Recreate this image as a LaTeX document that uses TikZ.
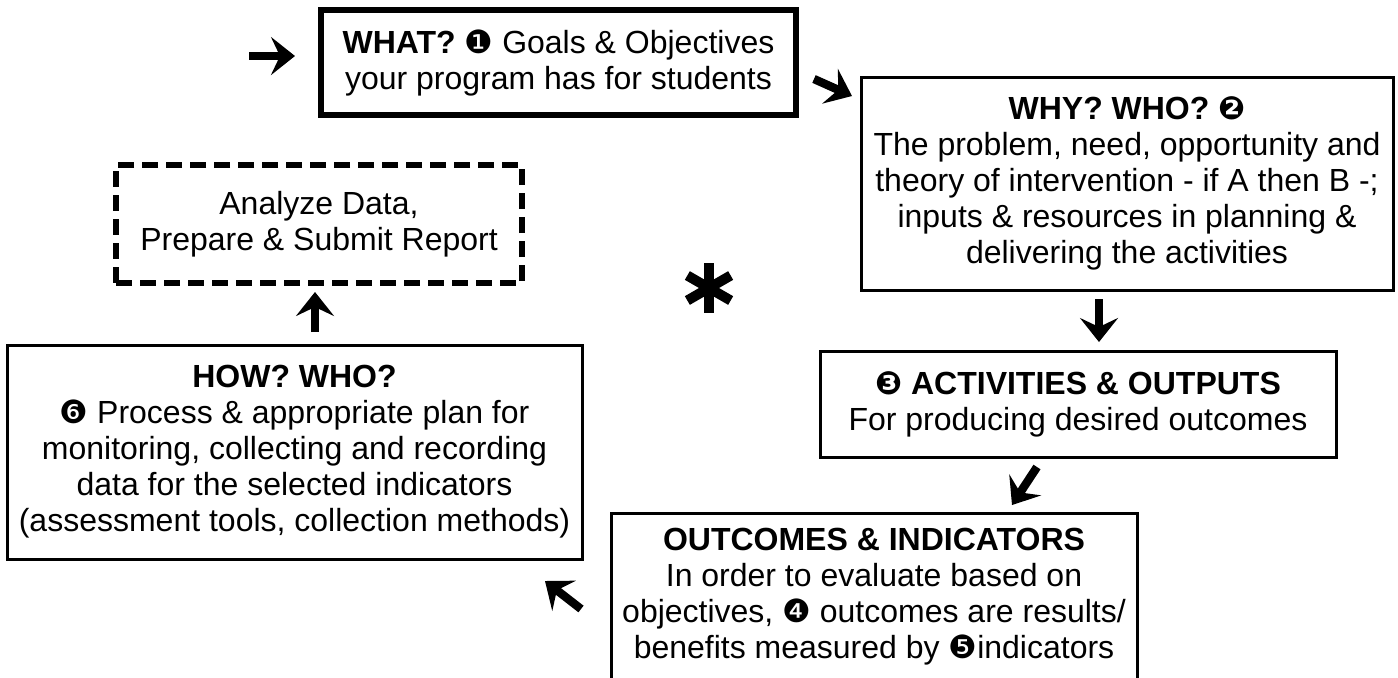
\documentclass[tikz,border=0pt]{standalone}
\usepackage{fontspec}
\setmainfont{Liberation Sans}
\newfontfamily\dingfont{DejaVu Sans}
\newcommand{\dg}[1]{{\dingfont #1}}
\usetikzlibrary{arrows.meta}
\tikzset{
	box/.style = {draw, line width=1.5pt, rectangle, align=center, inner sep=0pt,
			font=\fontsize{16}{18}\selectfont},
	whatbox/.style = {box, line width=3.4pt},
	dashbox/.style = {box, line width=2.6pt, dash pattern=on 8pt off 4pt},
	bigarrow/.style = {line width=4.2pt, -{Stealth[length=12pt, width=19pt, inset=4.5pt]}},
	spoke/.style = {line width=5pt}
}

\begin{document}
\begin{tikzpicture}[x=0.5pt, y=-0.5pt]
						\useasboundingbox (0,0) rectangle (1398,677);
						% ====== Boxes ========
						\node[whatbox, minimum width=237.5pt, minimum height=52.5pt] (what) at (558.5,62.5)
							{\textbf{WHAT?} \dg{❶} Goals \& Objectives\\your program has for students};
						\node[box, minimum width=266pt, minimum height=106.5pt] (why) at (1127,183.5)
							{\textbf{WHY? WHO? \dg{❷}}\\The problem, need, opportunity and\\theory of intervention - if A then B -;\\inputs \& resources in planning \&\\delivering the activities};
						\node[dashbox, minimum width=203pt, minimum height=59pt] (report) at (319,224)
							{Analyze Data,\\Prepare \& Submit Report};
						\node[box, minimum width=287.5pt, minimum height=107pt] (how) at (294.5,452)
							{\textbf{HOW? WHO?}\\\dg{❻} Process \& appropriate plan for\\monitoring, collecting and recording\\data for the selected indicators\\(assessment tools, collection methods)};
						\node[box, minimum width=258pt, minimum height=53pt] (act) at (1078,404)
							{\textbf{\dg{❸} ACTIVITIES \& OUTPUTS}\\For producing desired outcomes};
						\node[box, minimum width=263pt, minimum height=84pt] (outc) at (874,597)
							{\textbf{OUTCOMES \& INDICATORS}\\In order to evaluate based on\\objectives, \dg{❹} outcomes are results/\\benefits measured by \dg{❺}indicators};

						% ====== Arrows ========
						\coordinate (in1) at (249,56);    \coordinate (in2) at (295,56);
						\coordinate (wy1) at (814,79);    \coordinate (wy2) at (852,96);
						\coordinate (ya1) at (1099,299);  \coordinate (ya2) at (1099,342);
						\coordinate (ao1) at (1037,467);  \coordinate (ao2) at (1012,505);
						\coordinate (oh1) at (581,609);   \coordinate (oh2) at (545,581);
						\coordinate (hr1) at (315,332);   \coordinate (hr2) at (315,292);
						\foreach \p in {in,wy,ya,ao,oh,hr} {\draw[bigarrow] (\p1) -- (\p2);}

						% ====== Star ========
						\coordinate (S) at (709,288);
						\foreach \a in {30,90,...,330} {\draw[spoke] (S) -- +(\a:25);}
					\end{tikzpicture}
\end{document}
